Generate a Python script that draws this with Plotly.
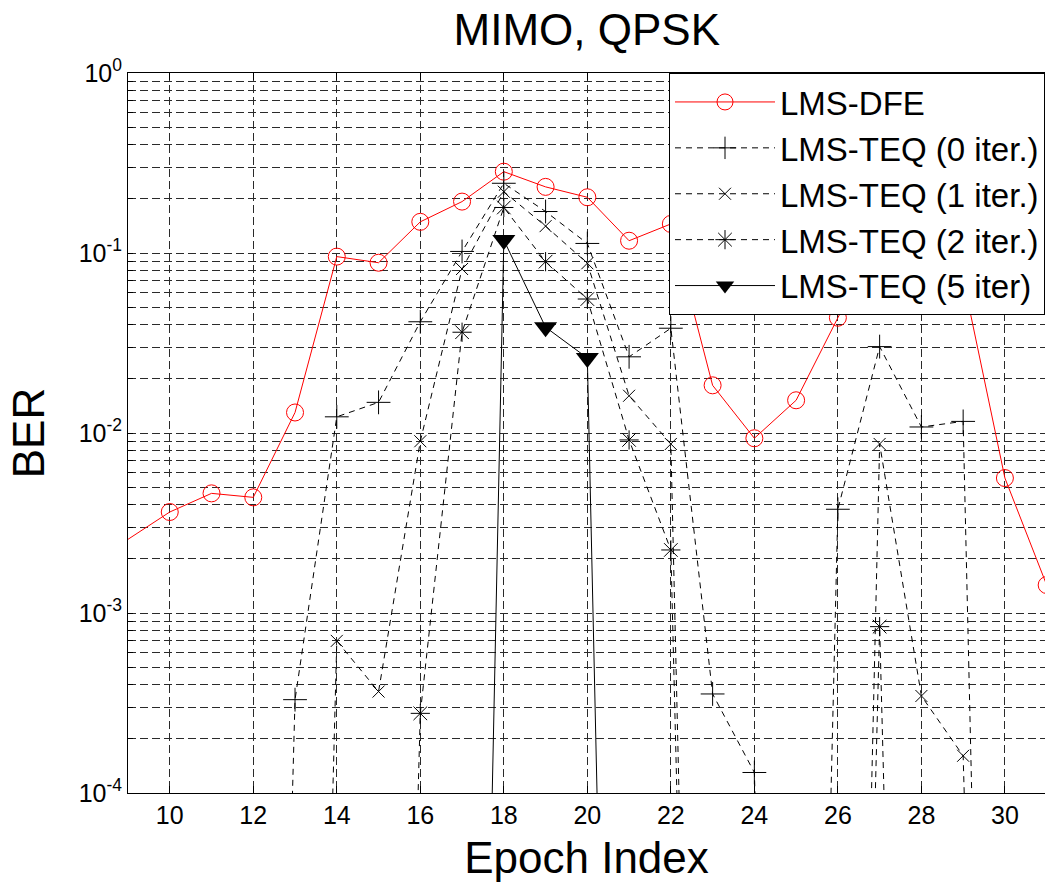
import plotly.graph_objects as go

# ---------------- data ----------------
epochs = list(range(9, 32))                  # epoch index 9 .. 31
dfe_epochs = [8] + list(range(10, 32))       # LMS-DFE line enters from the left of the axis
FLOOR = 1e-12                                # values far below the axis (drawn as steep drops)

ber_lms_dfe = [1.81e-3, 3.64e-3, 4.62e-3, 4.39e-3, 1.30e-2, 9.55e-2, 8.83e-2, 0.149,
               0.193, 0.283, 0.233, 0.204, 0.117, 0.145, 1.84e-2, 9.35e-3, 1.52e-2,
               4.37e-2, 0.12, 0.14, 0.072, 5.62e-3, 1.43e-3]

ber_teq_0 = [FLOOR, FLOOR, FLOOR, FLOOR, 3.3e-4, 1.23e-2, 1.48e-2, 4.15e-2, 0.102,
             0.244, 0.170, 0.113, 2.65e-2, 3.82e-2, 3.55e-4, 1.30e-4, FLOOR, 3.77e-3,
             3.02e-2, 1.08e-2, 1.16e-2, FLOOR, FLOOR]

ber_teq_1 = [FLOOR, FLOOR, FLOOR, FLOOR, FLOOR, 7.0e-4, 3.66e-4, 9.0e-3, 8.15e-2,
             0.219, 0.141, 8.77e-2, 1.61e-2, 8.69e-3, FLOOR, FLOOR, FLOOR, FLOOR,
             8.69e-3, 3.46e-4, 1.61e-4, FLOOR, FLOOR]

ber_teq_2 = [FLOOR, FLOOR, FLOOR, FLOOR, FLOOR, FLOOR, FLOOR, 2.77e-4, 3.63e-2,
             0.179, 8.95e-2, 5.55e-2, 9.15e-3, 2.24e-3, FLOOR, FLOOR, FLOOR, FLOOR,
             8.4e-4, FLOOR, FLOOR, FLOOR, FLOOR]

ber_teq_5 = [FLOOR, FLOOR, FLOOR, FLOOR, FLOOR, FLOOR, FLOOR, FLOOR, FLOOR,
             0.118, 3.87e-2, 2.61e-2, FLOOR, FLOOR, FLOOR, FLOOR, FLOOR, FLOOR,
             FLOOR, FLOOR, FLOOR, FLOOR, FLOOR]

x_ticks = list(range(10, 31, 2))
decades = [-4, -3, -2, -1, 0]
y_ticks = []
y_text = []
for d in decades:
    for m in range(1, 10):
        if d == 0 and m > 1:
            break
        y_ticks.append(m * 10.0 ** d)
        y_text.append("10<sup>%d</sup>" % d if m == 1 else "")

title_text = "MIMO, QPSK"
x_title = "Epoch Index"
y_title = "BER"

# ---------------- figure ----------------
FONT = "Arial, Liberation Sans, sans-serif"
fig = go.Figure()

fig.add_trace(go.Scatter(
    x=dfe_epochs, y=ber_lms_dfe, name="LMS-DFE", mode="lines+markers",
    line=dict(color="red", width=1),
    marker=dict(symbol="circle-open", size=17, color="red", line=dict(width=1, color="red"))))

fig.add_trace(go.Scatter(
    x=epochs, y=ber_teq_0, name="LMS-TEQ (0 iter.)", mode="lines+markers",
    line=dict(color="black", width=1, dash="6px,5px"),
    marker=dict(symbol="cross-thin-open", size=17, color="black", line=dict(width=1, color="black"))))

fig.add_trace(go.Scatter(
    x=epochs, y=ber_teq_1, name="LMS-TEQ (1 iter.)", mode="lines+markers",
    line=dict(color="black", width=1, dash="6px,5px"),
    marker=dict(symbol="x-thin-open", size=12, color="black", line=dict(width=1, color="black"))))

fig.add_trace(go.Scatter(
    x=epochs, y=ber_teq_2, name="LMS-TEQ (2 iter.)", mode="lines+markers",
    line=dict(color="black", width=1, dash="6px,5px"),
    marker=dict(symbol="asterisk-open", size=16, color="black", line=dict(width=1, color="black"))))

fig.add_trace(go.Scatter(
    x=epochs, y=ber_teq_5, name="LMS-TEQ (5 iter)", mode="lines+markers",
    line=dict(color="black", width=1),
    marker=dict(symbol="triangle-down", size=20, color="black")))

GRID = "#2a2a2a"
fig.update_layout(
    width=1045, height=886,
    margin=dict(l=128, r=0, t=73, b=93),
    paper_bgcolor="white", plot_bgcolor="white",
    font=dict(family=FONT, color="black"),
    title=dict(text=title_text, x=0.5615, xanchor="center", y=1 - 30 / 886, yanchor="middle",
               font=dict(size=44, family=FONT, color="black")),
    showlegend=True,
    legend=dict(x=1.0, xanchor="right", y=1.0, yanchor="top",
                bgcolor="white", bordercolor="black", borderwidth=1,
                font=dict(size=33, family=FONT, color="black"),
                itemwidth=100, tracegroupgap=0),
    xaxis=dict(
        range=[9, 30.96], tickmode="array", tickvals=x_ticks,
        ticks="inside", ticklen=7, tickcolor="black", tickwidth=1,
        showline=True, linecolor="black", linewidth=1, mirror="ticks",
        showgrid=True, gridcolor=GRID, gridwidth=1, griddash="8px,4px",
        zeroline=False,
        tickfont=dict(size=25, family=FONT, color="black"),
        title=dict(text=x_title, font=dict(size=44, family=FONT, color="black"), standoff=14),
    ),
    yaxis=dict(
        type="log", range=[-4, 0], tickmode="array", tickvals=y_ticks, ticktext=y_text,
        ticks="inside", ticklen=5, tickcolor="black", tickwidth=1,
        showline=True, linecolor="black", linewidth=1,
        showgrid=True, gridcolor=GRID, gridwidth=1, griddash="8px,4px",
        zeroline=False,
        tickfont=dict(size=25, family=FONT, color="black"),
        title=dict(text=y_title, font=dict(size=44, family=FONT, color="black"), standoff=20),
    ),
)

fig.write_html("out.html")
